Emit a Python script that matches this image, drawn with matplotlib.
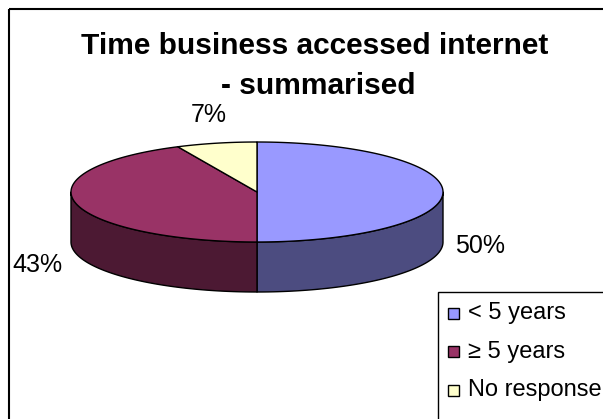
import numpy as np
import matplotlib
matplotlib.use('Agg')
import matplotlib.pyplot as plt
from matplotlib.patches import Polygon, Rectangle

categories = ['< 5 years', '\u2265 5 years', 'No response']
values = [50, 43, 7]
pct_labels = ['50%', '43%', '7%']
title_lines = ['Time business accessed internet', '- summarised']

top_colors = ['#9999FF', '#993366', '#FFFFCC']
side_colors = ['#4C4C80', '#4C1933', '#808066']

plt.rcParams['font.family'] = ['Liberation Sans', 'DejaVu Sans']

W, H = 603, 419
fig = plt.figure(figsize=(W / 100, H / 100), dpi=100)
ax = fig.add_axes([0, 0, 1, 1])
ax.set_xlim(0, W)
ax.set_ylim(H, 0)
ax.axis('off')

# outer chart frame
ax.add_patch(Rectangle((9, 9), 700, 700, fill=False, edgecolor='black', lw=1.5))

cx, cy, a, b, depth = 257, 192, 186, 50, 50


def pt(t, dy=0.0):
    r = np.deg2rad(t)
    return cx + a * np.cos(r), cy - b * np.sin(r) + dy


vals = np.array(values, dtype=float)
fracs = vals / vals.sum()
starts = 90 - 360 * np.concatenate([[0], np.cumsum(fracs)[:-1]])
ends = starts - 360 * fracs

# side walls (front only)
for s, e, col in zip(starts, ends, side_colors):
    for k in range(-2, 2):
        lo = max(e, -180 + 360 * k)
        hi = min(s, 360 * k)
        if hi - lo <= 0:
            continue
        ts = np.linspace(hi, lo, 100)
        xs, ys = pt(ts)
        xb, yb = pt(ts[::-1], depth)
        poly = np.column_stack([np.concatenate([xs, xb]), np.concatenate([ys, yb])])
        ax.add_patch(Polygon(poly, closed=True, facecolor=col, edgecolor='black',
                             lw=1.0, joinstyle='round'))

# top faces
for s, e, col in zip(starts, ends, top_colors):
    ts = np.linspace(s, e, 200)
    xs, ys = pt(ts)
    poly = np.column_stack([np.concatenate([[cx], xs]), np.concatenate([[cy], ys])])
    ax.add_patch(Polygon(poly, closed=True, facecolor=col, edgecolor='black',
                         lw=1.0, joinstyle='round'))

# percentage labels
for s, e, lab in zip(starts, ends, pct_labels):
    m = (s + e) / 2
    r = np.deg2rad(m)
    k = 1.2
    x = cx + a * k * np.cos(r)
    y = cy - b * k * np.sin(r)
    if np.sin(r) > 0.5:
        ax.text(x, y - 6, lab, ha='center', va='bottom', fontsize=18)
    elif np.cos(r) < 0:
        ax.text(x - 2, y + depth + 10, lab, ha='center', va='center', fontsize=18)
    else:
        ax.text(x, y + depth + 4, lab, ha='center', va='center', fontsize=18)

# title
ax.text(315, 46, title_lines[0], ha='center', va='center', fontsize=21.5, fontweight='bold')
ax.text(318, 86, title_lines[1], ha='center', va='center', fontsize=21.5, fontweight='bold')

# legend (box runs past the figure edges, as in the reference)
lx, ly, row_h, sq = 438, 292, 38.5, 11
ax.add_patch(Rectangle((lx, ly), 400, 400, facecolor='white', edgecolor='black', lw=1.0))
for i, (cat, col) in enumerate(zip(categories, top_colors)):
    yc = ly + 21 + i * row_h
    ax.add_patch(Rectangle((lx + 10, yc - sq / 2), sq, sq, facecolor=col,
                           edgecolor='black', lw=1.0))
    ax.text(lx + 30, yc, cat, ha='left', va='center', fontsize=17)

fig.savefig('out.png', dpi=100)
